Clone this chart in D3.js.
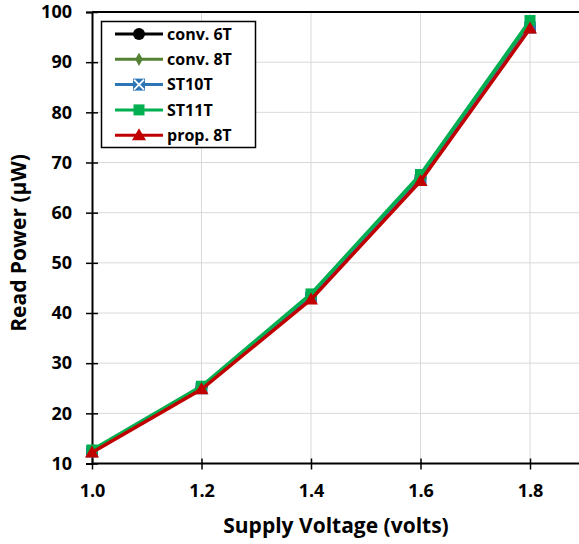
<!DOCTYPE html>
<html>
<head>
<meta charset="utf-8">
<script src="https://cdn.jsdelivr.net/npm/d3@7"></script>
<style>
  body { margin: 0; background: #fff; }
  text { font-family: "Open Sans", sans-serif; font-weight: bold; fill: #000; }
</style>
</head>
<body>
<div id="chart"></div>
<script>
// data
const voltages = [1.0, 1.2, 1.4, 1.6, 1.8];
const conv6T  = [12.5, 25.2, 43.2, 66.9, 97.4];
const conv8T  = [12.5, 25.3, 43.3, 67.0, 97.6];
const st10T   = [12.4, 25.0, 43.0, 66.5, 96.9];
const st11T   = [12.7, 25.4, 43.8, 67.6, 98.3];
const prop8T  = [12.2, 24.8, 42.7, 66.3, 96.7];
const xTicks = [1.0, 1.2, 1.4, 1.6, 1.8, 2.0];
const yTicks = [10, 20, 30, 40, 50, 60, 70, 80, 90, 100];

const series = [
  { name: 'conv. 6T', values: conv6T, color: '#000000', marker: 'circle' },
  { name: 'conv. 8T', values: conv8T, color: '#548235', marker: 'diamond' },
  { name: 'ST10T',    values: st10T,  color: '#2E75B6', marker: 'xsquare' },
  { name: 'ST11T',    values: st11T,  color: '#00B050', marker: 'square' },
  { name: 'prop. 8T', values: prop8T, color: '#C00000', marker: 'triangle' }
];

const w = 579, h = 544;
const svg = d3.select('#chart').append('svg').attr('width', w).attr('height', h);

const x = d3.scaleLinear().domain([1.0, 2.0]).range([92, 639.5]);
const y = d3.scaleLinear().domain([10, 100]).range([463.5, 12]);

// grid
svg.append('g').selectAll('line').data(yTicks.slice(1, -1)).enter().append('line')
   .attr('x1', x(1.0)).attr('x2', w).attr('y1', d => y(d)).attr('y2', d => y(d))
   .attr('stroke', '#d9d9d9').attr('stroke-width', 1);
svg.append('g').selectAll('line').data(xTicks.slice(1)).enter().append('line')
   .attr('x1', d => x(d)).attr('x2', d => x(d)).attr('y1', y(10)).attr('y2', y(100))
   .attr('stroke', '#d9d9d9').attr('stroke-width', 1);

// top border
svg.append('line').attr('x1', x(1.0)).attr('x2', w).attr('y1', y(100)).attr('y2', y(100))
   .attr('stroke', '#000').attr('stroke-width', 2);

// axes (ticks crossing the axis)
const xAxis = svg.append('g').attr('transform', 'translate(0,' + y(10) + ')')
   .call(d3.axisBottom(x).tickValues(xTicks.slice(0, -1)).tickFormat(d3.format('.1f')).tickSize(6).tickPadding(15));
const yAxis = svg.append('g').attr('transform', 'translate(' + x(1.0) + ',0)')
   .call(d3.axisLeft(y).tickValues(yTicks).tickSize(6).tickPadding(14));
[xAxis, yAxis].forEach(g => {
  g.select('.domain').attr('stroke', '#000').attr('stroke-width', 2);
  g.selectAll('.tick line').attr('stroke', '#000').attr('stroke-width', 1.5);
  g.selectAll('text').style('font-family', '"Open Sans", sans-serif')
   .style('font-weight', 'bold').style('font-size', '18px').attr('fill', '#000');
});
xAxis.selectAll('.tick line').attr('y1', -5);
yAxis.selectAll('.tick line').attr('x2', 6).attr('x1', -6);
xAxis.select('.domain').attr('d', 'M' + x(1.0) + ',0H' + w);

function drawMarker(g, type, color, cx, cy) {
  if (type === 'circle') {
    g.append('circle').attr('cx', cx).attr('cy', cy).attr('r', 6).attr('fill', color);
  } else if (type === 'diamond') {
    g.append('path').attr('d', d3.symbol(d3.symbolDiamond, 50)()).attr('transform', `translate(${cx},${cy})`).attr('fill', color);
  } else if (type === 'xsquare') {
    g.append('rect').attr('x', cx - 6).attr('y', cy - 6).attr('width', 12).attr('height', 12).attr('fill', color);
    g.append('path').attr('d', `M${cx-5},${cy-5}L${cx+5},${cy+5}M${cx+5},${cy-5}L${cx-5},${cy+5}`)
     .attr('stroke', '#fff').attr('stroke-width', 1.8);
  } else if (type === 'square') {
    g.append('rect').attr('x', cx - 5.5).attr('y', cy - 5.5).attr('width', 11).attr('height', 11).attr('fill', color);
  } else if (type === 'triangle') {
    g.append('path').attr('d', `M${cx},${cy-7}L${cx+7},${cy+5}L${cx-7},${cy+5}Z`).attr('fill', color);
  }
}

const line = d3.line().x((d, i) => x(voltages[i])).y(d => y(d));
series.forEach(s => {
  const g = svg.append('g');
  g.append('path').datum(s.values).attr('d', line)
   .attr('fill', 'none').attr('stroke', s.color).attr('stroke-width', 3.5);
  s.values.forEach((v, i) => drawMarker(g, s.marker, s.color, x(voltages[i]), y(v)));
});

// legend
const lg = svg.append('g');
lg.append('rect').attr('x', 101.5).attr('y', 21.5).attr('width', 154).attr('height', 126)
  .attr('fill', '#fff').attr('stroke', '#000').attr('stroke-width', 1.5);
series.forEach((s, i) => {
  const ly = 34 + i * 25.3;
  lg.append('line').attr('x1', 115).attr('x2', 163).attr('y1', ly).attr('y2', ly)
    .attr('stroke', s.color).attr('stroke-width', 3);
  drawMarker(lg, s.marker, s.color, 139, ly);
  lg.append('text').attr('x', 167).attr('y', ly).attr('dy', '0.36em')
    .style('font-size', '16px').text(s.name);
});

// axis titles
svg.append('text').attr('x', 336).attr('y', 533).attr('text-anchor', 'middle')
   .style('font-size', '21px').text('Supply Voltage (volts)');
svg.append('text').attr('transform', 'translate(26,243) rotate(-90)').attr('text-anchor', 'middle')
   .style('font-size', '21px').text('Read Power (\u00b5W)');
</script>
</body>
</html>
